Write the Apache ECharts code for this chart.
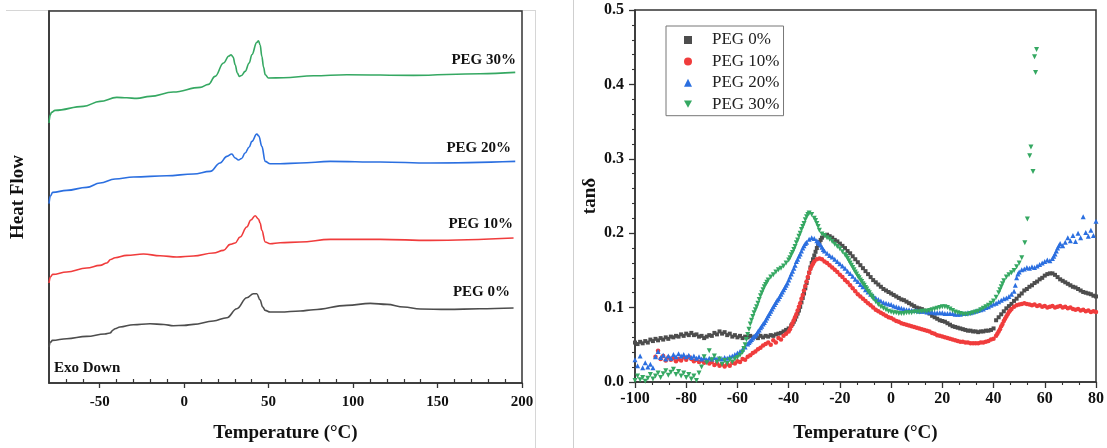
<!DOCTYPE html>
<html>
<head>
<meta charset="utf-8">
<script src="https://cdn.jsdelivr.net/npm/echarts@6/dist/echarts.min.js"></script>
<style>
  html, body { margin: 0; padding: 0; background: #fff; }
  #chart { width: 1107px; height: 448px; }
</style>
</head>
<body>
<div id="chart"></div>
<script>
// ---------- DSC heat-flow traces (temperature °C, heat flow in arbitrary units) ----------
const dscPeg0 = [[-80, 36], [-79, 41], [-78, 42.6], [-69.5, 44.3], [-57.7, 46.6], [-47, 49], [-43.9, 50], [-42, 53], [-40.9, 54.3], [-38, 56], [-30, 58.3], [-20.2, 59.3], [-12, 58.5], [-6.4, 57.3], [0, 57.6], [5.5, 58.6], [17.3, 62], [25.3, 65.3], [31.2, 74.3], [37.1, 85.3], [41, 89.3], [43, 89.3], [44.9, 83.3], [46.5, 76], [48, 72.6], [50.9, 71], [56.8, 71], [68.7, 72], [76.6, 73.3], [96.4, 77.6], [110.2, 79.6], [120.1, 78.6], [130, 76], [139.8, 74], [155.6, 73.6], [175, 74.2], [195, 75]];
const dscPeg10 = [[-80, 100], [-79.2, 106], [-77.8, 108.6], [-69.5, 111], [-57.7, 115], [-49.8, 117.6], [-45.8, 120], [-43.5, 123.5], [-40.9, 125.3], [-34, 127.6], [-24.1, 129], [-14.2, 127.3], [-4.3, 126], [5.5, 127], [17.3, 130], [23.3, 132.6], [27.2, 138.6], [30.2, 140], [33.1, 146], [37.1, 156], [39.5, 163], [42, 167.3], [44, 164], [45, 160], [46, 152.6], [48, 141], [50.9, 139.3], [56.8, 140.3], [68.7, 141], [86.5, 143.6], [116.1, 143.6], [145.7, 142.6], [195, 145]];
const dscPeg20 = [[-80, 179.3], [-79.2, 187], [-77.8, 190.6], [-69.5, 192.6], [-57.7, 195.6], [-49.8, 200], [-40.9, 204], [-30, 206], [-10.3, 207.3], [5.5, 209], [15.4, 211.6], [21.3, 220], [25.3, 226.6], [28.2, 229], [30.2, 225], [32.2, 223], [34, 224.5], [36.1, 230], [38.5, 236], [40.1, 241.6], [43, 249], [44.2, 247], [46, 236.6], [48, 221.6], [50.9, 219.3], [56.8, 219.3], [68.7, 220], [86.5, 221.6], [116.1, 221], [145.7, 220], [196, 221.6]];
const dscPeg30 = [[-80, 260], [-79.3, 268], [-78.5, 270.6], [-76.4, 272.6], [-59.7, 276.6], [-49.8, 281.6], [-39.9, 285.6], [-34, 285.2], [-28, 284.6], [-20.2, 286.6], [-6.4, 291], [9.5, 295.6], [14.4, 298.6], [18.3, 306.6], [23.3, 320], [26.5, 327], [27.8, 328.3], [29, 326], [30.2, 318.3], [31.5, 310], [32.7, 306.6], [34, 307.5], [36.1, 311.6], [38.5, 320], [40.1, 328.3], [43, 340.6], [44, 342.3], [45, 338], [46, 326.6], [47, 316], [48, 308.3], [49.9, 305], [58.8, 305.3], [76.6, 307.3], [96.4, 308.3], [135.8, 307.6], [175.3, 309.3], [196, 310.6]];

const dscTicks = [-50, 0, 50, 100, 150, 200];
const dscMinorTicks = [-70, -60, -40, -30, -20, -10, 10, 20, 30, 40, 60, 70, 80, 90, 110, 120, 130, 140, 160, 170, 180, 190];

// ---------- DMA tan delta (sampled every 1 °C from -100 to 80) ----------
const dmaTemp = [-100, -99, -98, -97, -96, -95, -94, -93, -92, -91, -90, -89, -88, -87, -86, -85, -84, -83, -82, -81,
  -80, -79, -78, -77, -76, -75, -74, -73, -72, -71, -70, -69, -68, -67, -66, -65, -64, -63, -62, -61,
  -60, -59, -58, -57, -56, -55, -54, -53, -52, -51, -50, -49, -48, -47, -46, -45, -44, -43, -42, -41,
  -40, -39, -38, -37, -36, -35, -34, -33, -32, -31, -30, -29, -28, -27, -26, -25, -24, -23, -22, -21,
  -20, -19, -18, -17, -16, -15, -14, -13, -12, -11, -10, -9, -8, -7, -6, -5, -4, -3, -2, -1,
  0, 1, 2, 3, 4, 5, 6, 7, 8, 9, 10, 11, 12, 13, 14, 15, 16, 17, 18, 19,
  20, 21, 22, 23, 24, 25, 26, 27, 28, 29, 30, 31, 32, 33, 34, 35, 36, 37, 38, 39,
  40, 41, 42, 43, 44, 45, 46, 47, 48, 49, 50, 51, 52, 53, 54, 55, 56, 57, 58, 59,
  60, 61, 62, 63, 64, 65, 66, 67, 68, 69, 70, 71, 72, 73, 74, 75, 76, 77, 78, 79, 80];

const tanPeg0 = [0.053, 0.051, 0.054, 0.052, 0.055, 0.053, 0.057, 0.055, 0.058, 0.056, 0.059, 0.057, 0.060, 0.058, 0.061, 0.060, 0.062, 0.061, 0.064, 0.062,
  0.065, 0.063, 0.066, 0.063, 0.064, 0.061, 0.062, 0.059, 0.061, 0.063, 0.062, 0.066, 0.064, 0.068, 0.065, 0.067, 0.063, 0.065, 0.061, 0.063,
  0.060, 0.062, 0.059, 0.061, 0.060, 0.062, 0.060, 0.061, 0.059, 0.062, 0.060, 0.062, 0.061, 0.063, 0.062, 0.064, 0.065, 0.066, 0.068, 0.070,
  0.072, 0.076, 0.081, 0.088, 0.096, 0.107, 0.119, 0.133, 0.147, 0.160, 0.170, 0.180, 0.188, 0.194, 0.197, 0.198, 0.196, 0.194, 0.191, 0.189,
  0.186, 0.183, 0.180, 0.176, 0.173, 0.169, 0.165, 0.161, 0.157, 0.153, 0.149, 0.145, 0.141, 0.137, 0.134, 0.131, 0.128, 0.125, 0.123, 0.121,
  0.119, 0.117, 0.115, 0.113, 0.111, 0.110, 0.108, 0.106, 0.104, 0.102, 0.100, 0.099, 0.098, 0.096, 0.094, 0.092, 0.089, 0.087, 0.085, 0.083,
  0.082, 0.081, 0.079, 0.077, 0.075, 0.074, 0.073, 0.072, 0.071, 0.070, 0.069, 0.069, 0.068, 0.068, 0.067, 0.068, 0.068, 0.069, 0.069, 0.070,
  0.072, 0.083, 0.087, 0.091, 0.095, 0.099, 0.102, 0.105, 0.109, 0.112, 0.116, 0.119, 0.123, 0.125, 0.128, 0.130, 0.133, 0.135, 0.138, 0.140,
  0.143, 0.145, 0.146, 0.146, 0.144, 0.141, 0.138, 0.136, 0.134, 0.132, 0.130, 0.128, 0.127, 0.125, 0.123, 0.121, 0.120, 0.119, 0.118, 0.116, 0.115];
// extra readings on the steep rise of the glass transition
const peg0ExtraTemp = [-38.5, -37.5, -36.5, -35.5, -34.5, -33.5, -32.5, -31.5, -30.5, -29.5, -28.5, -27.5];
const peg0ExtraTan = [0.078, 0.084, 0.092, 0.101, 0.113, 0.126, 0.140, 0.154, 0.165, 0.175, 0.184, 0.191];

const tanPeg10 = [null, null, null, null, null, null, null, null, 0.034, 0.042, 0.031, 0.035, 0.029, 0.033, 0.030, 0.032, 0.028, 0.031, 0.029, 0.033,
  0.030, 0.034, 0.031, 0.028, 0.030, 0.027, 0.029, 0.026, 0.028, 0.025, 0.027, 0.023, 0.025, 0.022, 0.024, 0.021, 0.024, 0.022, 0.026, 0.025,
  0.028, 0.027, 0.031, 0.030, 0.034, 0.036, 0.039, 0.041, 0.044, 0.046, 0.049, 0.051, 0.053, 0.050, 0.056, 0.053, 0.059, 0.057, 0.062, 0.065,
  0.068, 0.075, 0.083, 0.091, 0.101, 0.112, 0.123, 0.135, 0.147, 0.156, 0.162, 0.165, 0.166, 0.165, 0.162, 0.160, 0.157, 0.154, 0.151, 0.148,
  0.144, 0.141, 0.137, 0.134, 0.130, 0.126, 0.122, 0.118, 0.115, 0.112, 0.109, 0.106, 0.103, 0.100, 0.097, 0.095, 0.093, 0.091, 0.089, 0.087,
  0.086, 0.084, 0.082, 0.081, 0.079, 0.078, 0.077, 0.076, 0.075, 0.074, 0.073, 0.072, 0.071, 0.070, 0.069, 0.068, 0.066, 0.065, 0.063, 0.062,
  0.061, 0.060, 0.059, 0.058, 0.057, 0.056, 0.055, 0.054, 0.054, 0.053, 0.053, 0.052, 0.052, 0.052, 0.052, 0.053, 0.053, 0.054, 0.055, 0.057,
  0.058, 0.062, 0.068, 0.075, 0.082, 0.088, 0.094, 0.098, 0.101, 0.103, 0.104, 0.105, 0.106, 0.105, 0.104, 0.103, 0.104, 0.102, 0.103, 0.101,
  0.102, 0.100, 0.101, 0.102, 0.100, 0.101, 0.102, 0.100, 0.101, 0.099, 0.100, 0.098, 0.097, 0.098, 0.096, 0.097, 0.095, 0.096, 0.094, 0.095, 0.094];
const peg10ExtraTemp = [-39.5, -38.5, -37.5, -36.5, -35.5, -34.5, -33.5, -32.5, -31.5, -30.5, 41.5, 42.5, 43.5, 44.5, 45.5, 46.5];
const peg10ExtraTan = [0.071, 0.079, 0.087, 0.096, 0.106, 0.117, 0.129, 0.141, 0.152, 0.159, 0.065, 0.071, 0.078, 0.085, 0.091, 0.096];

const tanPeg20 = [0.030, 0.022, 0.035, 0.019, 0.026, 0.020, 0.024, 0.019, 0.034, 0.041, 0.033, 0.036, 0.031, 0.035, 0.032, 0.037, 0.034, 0.038, 0.035, 0.037,
  0.034, 0.036, 0.033, 0.035, 0.032, 0.034, 0.031, 0.033, 0.030, 0.032, 0.031, 0.033, 0.031, 0.032, 0.031, 0.033, 0.032, 0.034, 0.035, 0.037,
  0.039, 0.041, 0.044, 0.047, 0.051, 0.055, 0.059, 0.063, 0.068, 0.073, 0.078, 0.083, 0.089, 0.095, 0.101, 0.107, 0.112, 0.118, 0.124, 0.130,
  0.137, 0.145, 0.153, 0.162, 0.169, 0.176, 0.183, 0.188, 0.192, 0.194, 0.193, 0.190, 0.186, 0.181, 0.176, 0.173, 0.170, 0.168, 0.165, 0.162,
  0.159, 0.156, 0.153, 0.149, 0.146, 0.142, 0.138, 0.135, 0.131, 0.128, 0.124, 0.121, 0.118, 0.116, 0.113, 0.111, 0.109, 0.107, 0.106, 0.105,
  0.104, 0.102, 0.101, 0.100, 0.099, 0.098, 0.097, 0.097, 0.096, 0.096, 0.096, 0.095, 0.095, 0.095, 0.094, 0.094, 0.094, 0.093, 0.093, 0.093,
  0.093, 0.092, 0.092, 0.092, 0.092, 0.091, 0.091, 0.091, 0.092, 0.092, 0.093, 0.093, 0.094, 0.095, 0.096, 0.097, 0.098, 0.100, 0.101, 0.103,
  0.105, 0.106, 0.108, 0.110, 0.112, 0.113, 0.115, 0.118, 0.122, 0.140, 0.148, 0.151, 0.152, 0.154, 0.153, 0.155, 0.154, 0.156, 0.158, 0.160,
  0.162, 0.164, 0.163, 0.166, 0.172, 0.180, 0.186, 0.183, 0.188, 0.194, 0.190, 0.197, 0.189, 0.200, 0.194, 0.222, 0.201, 0.196, 0.204, 0.197, 0.216];
const peg20ExtraTemp = [-55.5, -54.5, -53.5, -52.5, -51.5, -50.5, -49.5, -48.5, -47.5, -46.5, -45.5, -44.5, -43.5, -42.5, -41.5, -40.5,
  -39.5, -38.5, -37.5, -36.5, -35.5, -34.5, -33.5, -28.5, -27.5, -26.5, 48.5, 49.5, 63.5, 64.5, 65.5];
const peg20ExtraTan = [0.053, 0.057, 0.061, 0.065, 0.070, 0.075, 0.080, 0.086, 0.092, 0.098, 0.104, 0.110, 0.115, 0.121, 0.127, 0.133,
  0.141, 0.149, 0.157, 0.165, 0.172, 0.180, 0.186, 0.188, 0.184, 0.178, 0.130, 0.145, 0.169, 0.176, 0.183];

const tanPeg30 = [0.002, 0.008, 0.003, 0.006, 0.001, 0.005, 0.010, 0.004, 0.008, 0.012, 0.006, 0.011, 0.015, 0.009, 0.013, 0.017, 0.010, 0.014, 0.008, 0.012,
  0.006, 0.010, 0.004, 0.008, 0.002, 0.012, 0.020, 0.034, 0.026, 0.042, 0.030, 0.035, 0.027, 0.031, 0.024, 0.029, 0.025, 0.030, 0.027, 0.031,
  0.033, 0.036, 0.040, 0.050, 0.064, 0.078, 0.088, 0.097, 0.106, 0.116, 0.124, 0.131, 0.137, 0.141, 0.144, 0.148, 0.151, 0.153, 0.156, 0.160,
  0.164, 0.171, 0.178, 0.187, 0.196, 0.205, 0.213, 0.222, 0.227, 0.225, 0.220, 0.213, 0.204, 0.199, 0.197, 0.194, 0.192, 0.189, 0.185, 0.182,
  0.179, 0.175, 0.171, 0.166, 0.160, 0.154, 0.148, 0.142, 0.137, 0.132, 0.127, 0.122, 0.117, 0.112, 0.108, 0.104, 0.101, 0.099, 0.097, 0.095,
  0.094, 0.093, 0.093, 0.092, 0.092, 0.092, 0.093, 0.093, 0.093, 0.094, 0.094, 0.094, 0.095, 0.095, 0.095, 0.096, 0.097, 0.098, 0.099, 0.100,
  0.101, 0.101, 0.100, 0.098, 0.096, 0.094, 0.093, 0.092, 0.091, 0.091, 0.091, 0.092, 0.093, 0.094, 0.095, 0.097, 0.099, 0.101, 0.103, 0.106,
  0.109, 0.114, 0.120, 0.128, 0.136, 0.141, 0.144, 0.147, 0.150, 0.155, 0.160, 0.167];
const peg30ExtraTemp = [-57.5, -56.5, -55.5, -54.5, -53.5, -52.5, -51.5, -50.5, -49.5, -48.5, -39.5, -38.5, -37.5, -36.5, -35.5, -34.5, -33.5, -32.5,
  -29.5, -28.5, -17.5, -16.5, -15.5, -14.5, -13.5, -12.5, -11.5, -10.5, -9.5, -8.5, -7.5, 42.5, 43.5];
const peg30ExtraTan = [0.045, 0.057, 0.071, 0.083, 0.093, 0.101, 0.111, 0.120, 0.128, 0.134, 0.167, 0.174, 0.182, 0.191, 0.200, 0.209, 0.218, 0.225,
  0.217, 0.209, 0.169, 0.163, 0.157, 0.151, 0.145, 0.140, 0.135, 0.130, 0.125, 0.120, 0.115, 0.124, 0.132];
// melting spike of the 30 % sample, recorded at irregular temperatures
const spikePeg30Temp = [52.2, 53.2, 54.1, 54.6, 55.4, 56.0, 56.4, 56.8];
const spikePeg30Tan = [0.187, 0.219, 0.304, 0.316, 0.283, 0.437, 0.416, 0.447];

const seriesNames = ['PEG 0%', 'PEG 10%', 'PEG 20%', 'PEG 30%'];
const colors = ['#4d4d4d', '#f03c3c', '#2b6fe0', '#35a862'];

const serif = "'Liberation Serif', 'Times New Roman', serif";
const axisColor = '#333';
const downTriangle = 'path://M0,0 L10,0 L5,9 Z';

function zipPairs(xs, ys) {
  const out = [];
  for (let i = 0; i < ys.length; i++) {
    if (ys[i] !== null) out.push([xs[i], ys[i]]);
  }
  return out;
}

const peg0Points = zipPairs(dmaTemp, tanPeg0).concat(zipPairs(peg0ExtraTemp, peg0ExtraTan));
const peg10Points = zipPairs(dmaTemp, tanPeg10).concat(zipPairs(peg10ExtraTemp, peg10ExtraTan));
const peg20Points = zipPairs(dmaTemp, tanPeg20).concat(zipPairs(peg20ExtraTemp, peg20ExtraTan));
const peg30Points = zipPairs(dmaTemp, tanPeg30)
  .concat(zipPairs(peg30ExtraTemp, peg30ExtraTan))
  .concat(zipPairs(spikePeg30Temp, spikePeg30Tan));

const chart = echarts.init(document.getElementById('chart'), null, { renderer: 'canvas' });

const dscLine = (name, data, color) => ({
  name: name + ' DSC',
  type: 'line',
  xAxisIndex: 0,
  yAxisIndex: 0,
  data: data,
  showSymbol: false,
  smooth: 0.4,
  smoothMonotone: 'x',
  lineStyle: { color: color, width: 1.6 },
  silent: true
});

const dmaScatter = (name, data, color, symbol, size) => ({
  name: name,
  type: 'scatter',
  xAxisIndex: 2,
  yAxisIndex: 1,
  data: data,
  symbol: symbol,
  symbolSize: size,
  itemStyle: { color: color, opacity: 1 },
  silent: true
});

const pegLabel = (text, right, y) => ({
  type: 'text',
  right: 1107 - right,
  top: y - 9,
  style: { text: text, font: 'bold 15px ' + serif, fill: '#111' }
});

const option = {
  animation: false,
  backgroundColor: '#fff',
  grid: [
    { left: 49, right: 585, top: 11, bottom: 65, show: true, borderColor: axisColor, borderWidth: 1.5 },
    { left: 635, right: 9, top: 10, bottom: 66, show: true, borderColor: axisColor, borderWidth: 1.5 }
  ],
  legend: {
    data: [seriesNames[0], seriesNames[1], seriesNames[2], { name: seriesNames[3], icon: downTriangle }],
    left: 666,
    top: 26,
    orient: 'vertical',
    itemWidth: 8,
    itemHeight: 8,
    itemGap: 4.4,
    padding: [5.5, 4, 3, 18],
    borderColor: '#777',
    borderWidth: 1,
    textStyle: { fontFamily: serif, fontSize: 17, color: '#222', lineHeight: 17, padding: [0, 0, 0, 15] }
  },
  xAxis: [
    {
      gridIndex: 0, type: 'value', min: -80, max: 200, position: 'bottom',
      axisLine: { onZero: false, lineStyle: { color: axisColor, width: 1.5 } },
      axisTick: { customValues: dscTicks, length: 5, lineStyle: { color: axisColor, width: 1.3 } },
      axisLabel: { customValues: dscTicks, margin: 12, color: '#111', fontFamily: serif, fontWeight: 'bold', fontSize: 15 },
      splitLine: { show: false },
      name: 'Temperature (°C)', nameLocation: 'middle', nameGap: 41,
      nameTextStyle: { fontFamily: serif, fontWeight: 'bold', fontSize: 19, color: '#111' }
    },
    {
      gridIndex: 0, type: 'value', min: -80, max: 200, position: 'bottom',
      axisLine: { show: false, onZero: false },
      axisTick: { customValues: dscMinorTicks, inside: true, length: 4, lineStyle: { color: axisColor, width: 1.2 } },
      axisLabel: { show: false },
      splitLine: { show: false }
    },
    {
      gridIndex: 1, type: 'value', min: -100, max: 80, interval: 20, position: 'bottom',
      axisLine: { onZero: false, lineStyle: { color: axisColor, width: 1.5 } },
      axisTick: { length: 6, lineStyle: { color: axisColor, width: 1.3 } },
      minorTick: { show: true, splitNumber: 3, length: 3, lineStyle: { color: axisColor, width: 1.1 } },
      axisLabel: { margin: 9, color: '#111', fontFamily: serif, fontWeight: 'bold', fontSize: 16 },
      splitLine: { show: false },
      name: 'Temperature (°C)', nameLocation: 'middle', nameGap: 42,
      nameTextStyle: { fontFamily: serif, fontWeight: 'bold', fontSize: 19, color: '#111' }
    }
  ],
  yAxis: [
    {
      gridIndex: 0, type: 'value', min: 0, max: 372, position: 'left',
      axisLine: { show: true, onZero: false, lineStyle: { color: axisColor, width: 1.5 } },
      axisTick: { show: false },
      axisLabel: { show: false },
      splitLine: { show: false },
      name: 'Heat Flow', nameLocation: 'middle', nameGap: 21,
      nameTextStyle: { fontFamily: serif, fontWeight: 'bold', fontSize: 19, color: '#111' }
    },
    {
      gridIndex: 1, type: 'value', min: 0, max: 0.5, interval: 0.1, position: 'left',
      axisLine: { show: true, onZero: false, lineStyle: { color: axisColor, width: 1.5 } },
      axisTick: { length: 6, lineStyle: { color: axisColor, width: 1.3 } },
      minorTick: { show: true, splitNumber: 5, length: 3, lineStyle: { color: axisColor, width: 1.1 } },
      axisLabel: { margin: 11, color: '#111', fontFamily: serif, fontWeight: 'bold', fontSize: 16,
        formatter: v => v.toFixed(1) },
      splitLine: { show: false },
      name: 'tanδ', nameLocation: 'middle', nameGap: 35,
      nameTextStyle: { fontFamily: serif, fontWeight: 'bold', fontSize: 19, color: '#111' }
    }
  ],
  series: [
    dscLine(seriesNames[0], dscPeg0, colors[0]),
    dscLine(seriesNames[1], dscPeg10, colors[1]),
    dscLine(seriesNames[2], dscPeg20, colors[2]),
    dscLine(seriesNames[3], dscPeg30, colors[3]),
    dmaScatter(seriesNames[0], peg0Points, colors[0], 'rect', 4),
    dmaScatter(seriesNames[1], peg10Points, colors[1], 'circle', 4.5),
    dmaScatter(seriesNames[2], peg20Points, colors[2], 'triangle', 5),
    dmaScatter(seriesNames[3], peg30Points, colors[3], downTriangle, 5)
  ],
  graphic: [
    // light page frame around the two panels
    { type: 'line', shape: { x1: 6, y1: 10.5, x2: 535, y2: 10.5 }, style: { stroke: '#d6d6d6', lineWidth: 1 }, z: -1 },
    { type: 'line', shape: { x1: 535.5, y1: 10, x2: 535.5, y2: 448 }, style: { stroke: '#d6d6d6', lineWidth: 1 }, z: -1 },
    { type: 'line', shape: { x1: 573.5, y1: 0, x2: 573.5, y2: 448 }, style: { stroke: '#cfcfcf', lineWidth: 1 }, z: -1 },
    pegLabel('PEG 30%', 516, 62),
    pegLabel('PEG 20%', 511, 150),
    pegLabel('PEG 10%', 513, 226),
    pegLabel('PEG 0%', 510, 294),
    { type: 'text', left: 54, top: 361, style: { text: 'Exo Down', font: 'bold 15px ' + serif, fill: '#111' } }
  ]
};

chart.setOption(option);
</script>
</body>
</html>
